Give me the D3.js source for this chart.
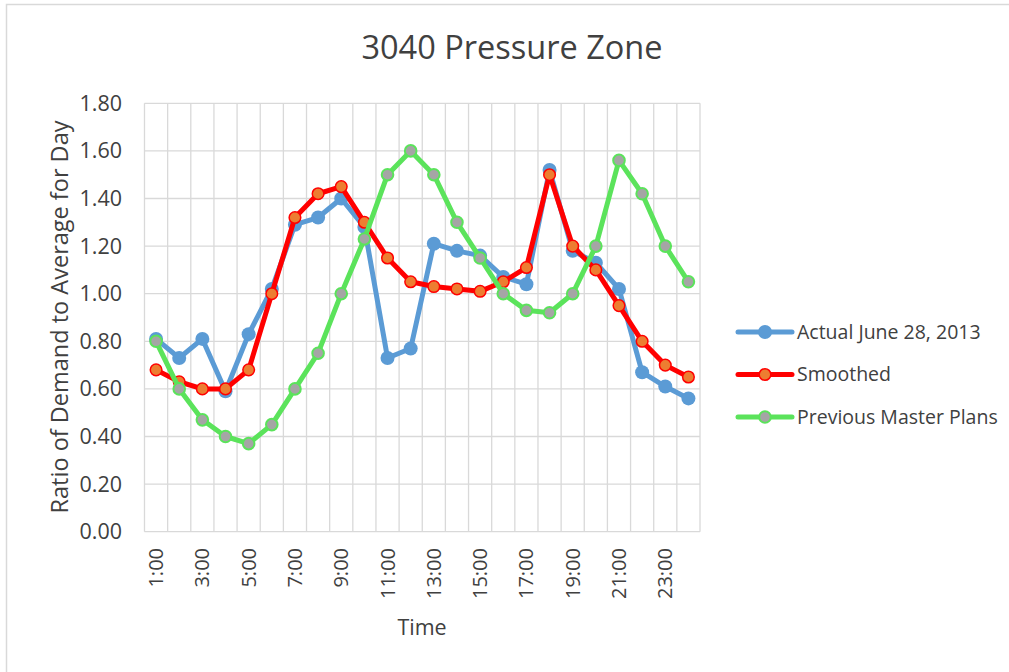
<!DOCTYPE html>
<html>
<head>
<meta charset="utf-8">
<script src="https://cdn.jsdelivr.net/npm/d3@7"></script>
<style>
  body { margin: 0; background: #fff; }
  text { font-family: "Open Sans", sans-serif; fill: #404040; }
</style>
</head>
<body>
<svg id="chart" width="1009" height="672"></svg>
<script>
// hours of the day
const hours = d3.range(1, 25).map(h => h + ":00");
// series
const actual = [0.81, 0.73, 0.81, 0.59, 0.83, 1.02, 1.29, 1.32, 1.40, 1.28, 0.73, 0.77,
                1.21, 1.18, 1.16, 1.07, 1.04, 1.52, 1.18, 1.13, 1.02, 0.67, 0.61, 0.56];
const smoothed = [0.68, 0.63, 0.60, 0.60, 0.68, 1.00, 1.32, 1.42, 1.45, 1.30, 1.15, 1.05,
                  1.03, 1.02, 1.01, 1.05, 1.11, 1.50, 1.20, 1.10, 0.95, 0.80, 0.70, 0.65];
const previous = [0.80, 0.60, 0.47, 0.40, 0.37, 0.45, 0.60, 0.75, 1.00, 1.23, 1.50, 1.60,
                  1.50, 1.30, 1.15, 1.00, 0.93, 0.92, 1.00, 1.20, 1.56, 1.42, 1.20, 1.05];
const yTicks = [0, 0.2, 0.4, 0.6, 0.8, 1.0, 1.2, 1.4, 1.6, 1.8];

const series = [
  { name: "Actual June 28, 2013", values: actual, line: "#5B9BD5", fill: "#5B9BD5", stroke: "#5B9BD5", r: 7, sw: 0 },
  { name: "Smoothed", values: smoothed, line: "#FF0000", fill: "#ED7D31", stroke: "#FF0000", r: 5.8, sw: 1.5 },
  { name: "Previous Master Plans", values: previous, line: "#5BE35B", fill: "#A5A5A5", stroke: "#5BE35B", r: 5.8, sw: 2 }
];

const svg = d3.select("#chart");
const m = { left: 144.5, right: 700, top: 103.3, bottom: 531.7 };

// chart border
svg.append("path")
  .attr("d", "M6.5,680V4.5H1012")
  .attr("fill", "none").attr("stroke", "#D9D9D9").attr("stroke-width", 1.5);

const x = d3.scaleBand().domain(hours).range([m.left, m.right]);
const y = d3.scaleLinear().domain([0, 1.8]).range([m.bottom, m.top]);

// grid: horizontal
svg.append("g").selectAll("line").data(yTicks).join("line")
  .attr("x1", m.left).attr("x2", m.right)
  .attr("y1", d => y(d)).attr("y2", d => y(d))
  .attr("stroke", "#D9D9D9").attr("stroke-width", 1.3);
// grid: vertical at category edges
const edges = hours.map(h => x(h)).concat([m.right]);
svg.append("g").selectAll("line").data(edges).join("line")
  .attr("x1", d => d).attr("x2", d => d)
  .attr("y1", m.top).attr("y2", m.bottom)
  .attr("stroke", "#D9D9D9").attr("stroke-width", 1.3);

// y tick labels
svg.append("g").selectAll("text").data(yTicks).join("text")
  .attr("x", 122).attr("y", d => y(d))
  .attr("dy", "0.35em").attr("text-anchor", "end")
  .style("font-size", "21.5px")
  .text(d3.format(".2f"));

// x tick labels, every other hour
svg.append("g").selectAll("text").data(hours.filter((h, i) => i % 2 === 0)).join("text")
  .attr("transform", d => `translate(${x(d) + x.bandwidth() / 2},548) rotate(-90)`)
  .attr("dy", "0.35em").attr("text-anchor", "end")
  .style("font-size", "20px")
  .text(d => d);

// titles
svg.append("text").attr("x", 512).attr("y", 48).attr("dy", "0.35em")
  .attr("text-anchor", "middle").style("font-size", "32.5px").text("3040 Pressure Zone");
svg.append("text").attr("x", 422).attr("y", 627).attr("dy", "0.35em")
  .attr("text-anchor", "middle").style("font-size", "21.5px").text("Time");
svg.append("text").attr("transform", `translate(60,317) rotate(-90)`).attr("dy", "0.35em")
  .attr("text-anchor", "middle").style("font-size", "23.5px").text("Ratio of Demand to Average for Day");

// lines and markers
const line = d3.line().x((d, i) => x(hours[i]) + x.bandwidth() / 2).y(d => y(d));
series.forEach(s => {
  const g = svg.append("g");
  g.append("path").attr("d", line(s.values))
    .attr("fill", "none").attr("stroke", s.line).attr("stroke-width", 5)
    .attr("stroke-linejoin", "round").attr("stroke-linecap", "round");
  g.selectAll("circle").data(s.values).join("circle")
    .attr("cx", (d, i) => x(hours[i]) + x.bandwidth() / 2).attr("cy", d => y(d))
    .attr("r", s.r).attr("fill", s.fill)
    .attr("stroke", s.stroke).attr("stroke-width", s.sw);
});

// legend
const legend = svg.append("g").selectAll("g").data(series).join("g")
  .attr("transform", (d, i) => `translate(0,${332 + i * 42.5})`);
legend.append("line").attr("x1", 738).attr("x2", 792)
  .attr("stroke", d => d.line).attr("stroke-width", 5).attr("stroke-linecap", "round");
legend.append("circle").attr("cx", 765).attr("r", d => d.r)
  .attr("fill", d => d.fill).attr("stroke", d => d.stroke).attr("stroke-width", d => d.sw);
legend.append("text").attr("x", 797).attr("dy", "0.35em")
  .style("font-size", "19.5px").text(d => d.name);
</script>
</body>
</html>
